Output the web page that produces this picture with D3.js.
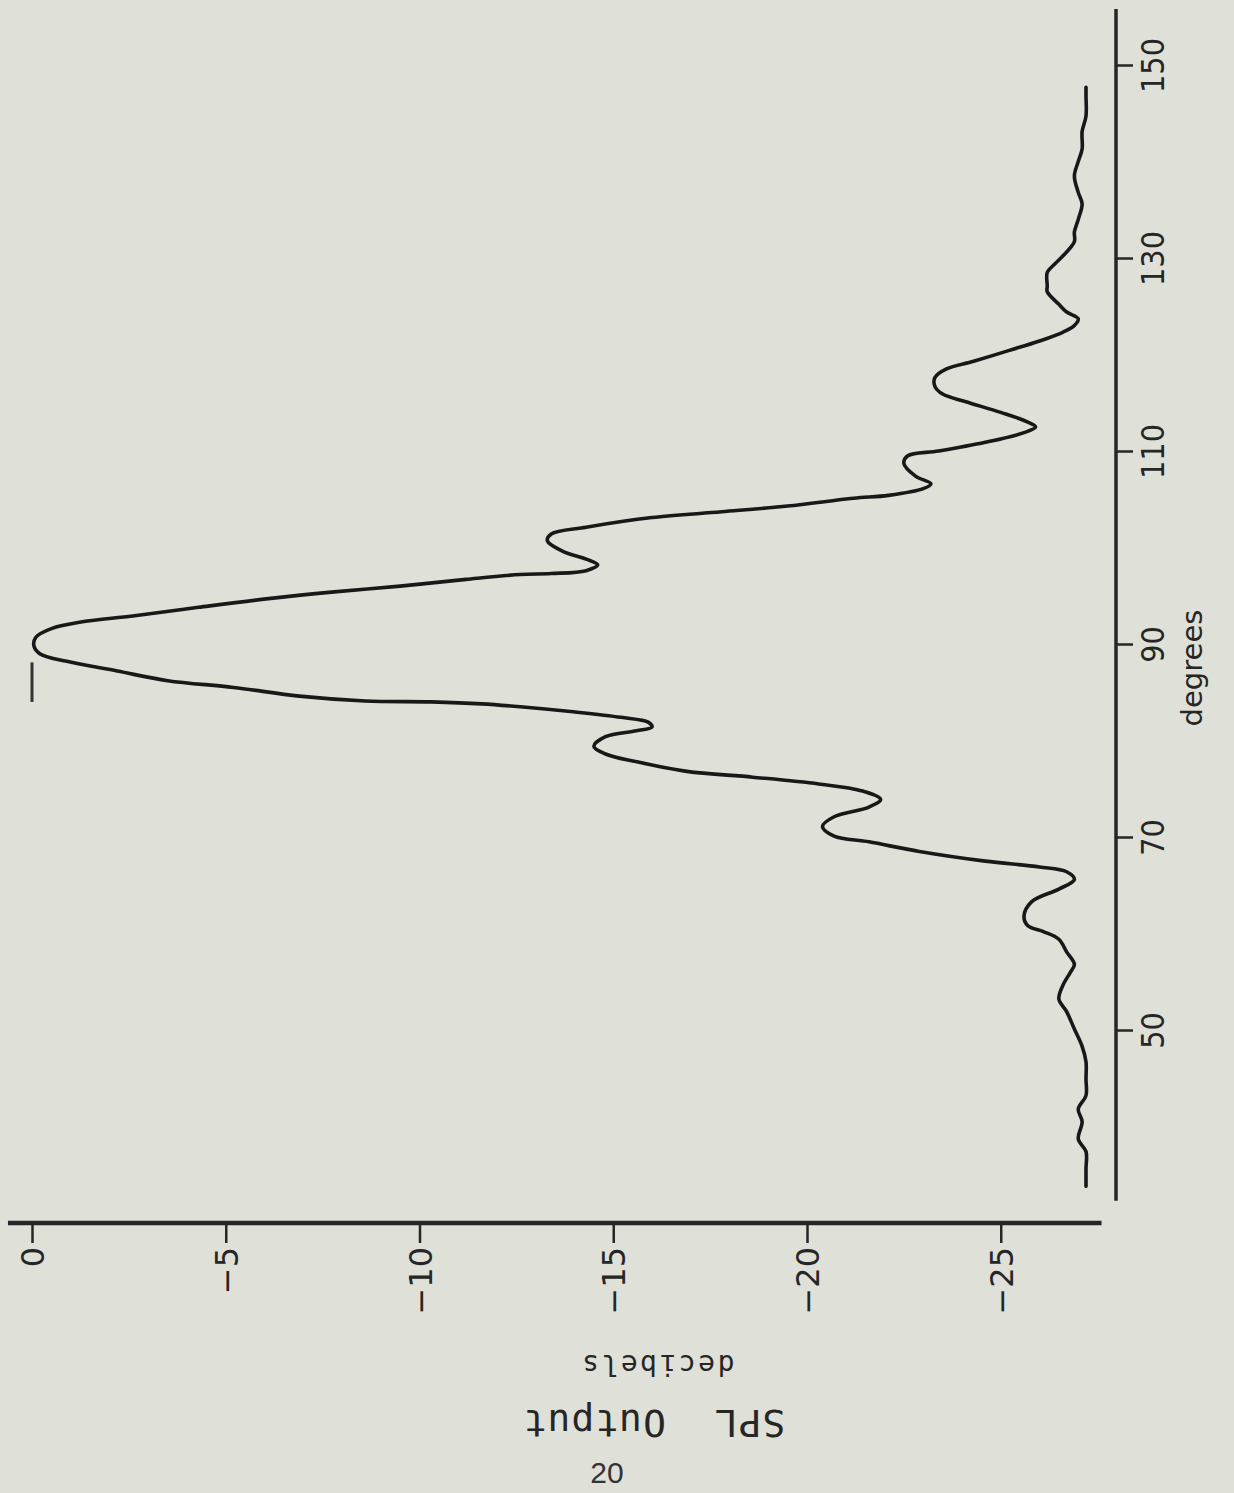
<!DOCTYPE html>
<html>
<head>
<meta charset="utf-8">
<script src="https://cdn.jsdelivr.net/npm/d3@7"></script>
<style>
  html, body { margin: 0; padding: 0; background: #dfe0d8; }
  svg { display: block; }
</style>
</head>
<body>
<script>
// chart is printed sideways: angle runs up the page, level runs across
var width = 1234;
var height = 1493;

var angles = [
  147.7, 146.8, 144.7, 143.1, 141.3, 140.0, 138.5, 136.8, 135.6, 134.0,
  132.7, 131.7, 130.2, 129.4, 128.5, 127.1, 126.5, 125.2, 124.4, 123.7,
  123.0, 122.3, 121.4, 120.4, 119.3, 118.5, 117.6, 116.7, 115.9, 115.1,
  114.0, 113.0, 112.5, 111.9, 110.9, 110.0, 109.5, 108.7, 107.4, 106.6,
  106.1, 105.4, 105.1, 104.3, 103.7, 103.1, 102.1, 101.4, 100.7, 99.6,
  98.8, 98.2, 97.6, 97.3, 97.2, 96.7, 96.0, 95.4, 94.7, 93.8,
  92.9, 92.3, 91.6, 90.7, 89.8, 89.0, 88.2, 87.2, 86.2, 85.5,
  84.6, 84.1, 84.0, 83.8, 83.5, 83.0, 82.4, 81.9, 81.4, 81.0,
  80.4, 79.4, 78.6, 77.8, 76.8, 76.2, 75.5, 74.8, 73.9, 73.1,
  72.1, 71.1, 70.1, 69.5, 68.5, 67.5, 66.9, 66.4, 65.6, 64.6,
  63.3, 61.8, 60.8, 60.2, 59.4, 58.1, 56.8, 56.0, 54.6, 53.2,
  51.9, 50.1, 48.3, 46.7, 44.9, 43.2, 41.8, 40.5, 38.7, 37.4,
  35.6, 33.8
];

// SPL output in decibels for each angle above
var levels = [
  -27.2, -27.2, -27.2, -27.1, -27.1, -27.0, -26.9, -27.0, -27.1, -27.0,
  -26.9, -26.9, -26.6, -26.4, -26.2, -26.2, -26.2, -26.5, -26.7, -27.0,
  -26.9, -26.6, -26.0, -25.2, -24.3, -23.6, -23.3, -23.3, -23.5, -24.1,
  -25.0, -25.7, -25.9, -25.6, -24.6, -23.4, -22.6, -22.5, -22.8, -23.2,
  -23.0, -22.1, -21.2, -19.5, -17.8, -16.0, -14.3, -13.4, -13.3, -13.7,
  -14.3, -14.6, -14.3, -13.4, -12.6, -11.2, -9.5, -7.8, -6.1, -4.3,
  -2.6, -1.3, -0.5, -0.1, -0.05, -0.2, -0.9, -2.2, -3.5, -5.2,
  -6.9, -8.6, -10.3, -11.6, -12.6, -13.9, -15.2, -15.9, -16.0, -15.6,
  -14.8, -14.5, -14.8, -15.6, -16.9, -18.6, -20.3, -21.4, -21.9, -21.6,
  -20.7, -20.4, -20.7, -21.6, -22.9, -24.6, -26.0, -26.7, -26.9, -26.5,
  -25.8, -25.6, -25.7, -26.1, -26.5, -26.7, -26.9, -26.8, -26.6, -26.5,
  -26.7, -26.9, -27.1, -27.2, -27.2, -27.2, -27.0, -27.1, -27.0, -27.2,
  -27.2, -27.2
];

// tick labels
var levelTicks = [0, -5, -10, -15, -20, -25];
var angleTicks = [50, 70, 90, 110, 130, 150];

// little reference mark drawn at 0 dB just under the peak
var markAngles = [88.1, 84.0];
var markLevel = 0;

// how far the two axis lines run
var levelExtent = [0.62, -27.6];
var angleExtent = [155.8, 32.3];

var x = d3.scaleLinear()
  .domain([0, -25])
  .range([32, 1000.75]);

var y = d3.scaleLinear()
  .domain([50, 150])
  .range([1030, 65]);

var ink = "#262626";

var svg = d3.select("body")
  .append("svg")
  .attr("width", width)
  .attr("height", height);

svg.append("rect")
  .attr("width", width)
  .attr("height", height)
  .attr("fill", "#dfe0d8");

//level axis along the bottom
var xAxisY = 1223;
var xAxis = svg.append("g")
  .attr("transform", "translate(0," + xAxisY + ")")
  .call(d3.axisBottom(x).tickValues(levelTicks).tickSize(20).tickSizeOuter(0).tickFormat(d3.format("d")));

xAxis.select(".domain").remove();
xAxis.selectAll(".tick line")
  .attr("stroke", ink)
  .attr("stroke-width", 2.5);
xAxis.selectAll(".tick text")
  .attr("fill", ink)
  .attr("font-family", "'DejaVu Sans', sans-serif")
  .attr("font-size", 32)
  .attr("text-anchor", "end")
  .attr("y", 0)
  .attr("dy", "0.36em")
  .attr("transform", "translate(0,24) rotate(-90)");

xAxis.append("line")
  .attr("x1", x(levelExtent[0]))
  .attr("x2", x(levelExtent[1]))
  .attr("stroke", ink)
  .attr("stroke-width", 4.5);

//angle axis up the right side
var yAxisX = 1116;
var yAxis = svg.append("g")
  .attr("transform", "translate(" + yAxisX + ",0)")
  .call(d3.axisRight(y).tickValues(angleTicks).tickSize(17).tickSizeOuter(0));

yAxis.select(".domain").remove();
yAxis.selectAll(".tick line")
  .attr("stroke", ink)
  .attr("stroke-width", 2.5);
yAxis.selectAll(".tick text")
  .attr("fill", ink)
  .attr("font-family", "'Liberation Sans Narrow', 'DejaVu Sans Condensed', 'Liberation Sans', sans-serif")
  .attr("font-size", 32)
  .attr("text-anchor", "middle")
  .attr("x", 0)
  .attr("dy", "0.36em")
  .attr("transform", "translate(36,0) rotate(-90)");

yAxis.append("line")
  .attr("y1", y(angleExtent[0]))
  .attr("y2", y(angleExtent[1]))
  .attr("stroke", ink)
  .attr("stroke-width", 3.5);

//axis titles
svg.append("text")
  .attr("transform", "translate(1192,668) rotate(-90)")
  .attr("text-anchor", "middle")
  .attr("dy", "0.35em")
  .attr("fill", ink)
  .attr("font-family", "'DejaVu Sans', sans-serif")
  .attr("font-size", 29)
  .text("degrees");

svg.append("text")
  .attr("transform", "translate(657,1365) rotate(180)")
  .attr("text-anchor", "middle")
  .attr("dy", "0.35em")
  .attr("fill", ink)
  .attr("font-family", "'DejaVu Sans Mono', monospace")
  .attr("font-size", 28)
  .attr("letter-spacing", 2.5)
  .text("decibels");

svg.append("text")
  .attr("transform", "translate(654,1423) rotate(180)")
  .attr("text-anchor", "middle")
  .attr("dy", "0.35em")
  .attr("fill", ink)
  .attr("font-family", "'DejaVu Sans Mono', monospace")
  .attr("font-size", 38)
  .attr("letter-spacing", 1)
  .style("white-space", "pre")
  .text("SPL  Output");

//page number
svg.append("text")
  .attr("x", 607)
  .attr("y", 1472)
  .attr("text-anchor", "middle")
  .attr("dy", "0.35em")
  .attr("fill", "#333")
  .attr("font-family", "'Liberation Sans', Arial, sans-serif")
  .attr("font-size", 30)
  .text("20");

//the trace
var points = angles.map(function(a, i) { return [levels[i], a]; });

var line = d3.line()
  .x(function(d) { return x(d[0]); })
  .y(function(d) { return y(d[1]); })
  .curve(d3.curveCatmullRom.alpha(0.5));

svg.append("path")
  .datum(points)
  .attr("d", line)
  .attr("fill", "none")
  .attr("stroke", "#181818")
  .attr("stroke-width", 3.6)
  .attr("stroke-linejoin", "round")
  .attr("stroke-linecap", "round");

svg.append("line")
  .attr("x1", x(markLevel))
  .attr("x2", x(markLevel))
  .attr("y1", y(markAngles[0]))
  .attr("y2", y(markAngles[1]))
  .attr("stroke", "#333")
  .attr("stroke-width", 3);
</script>
</body>
</html>
